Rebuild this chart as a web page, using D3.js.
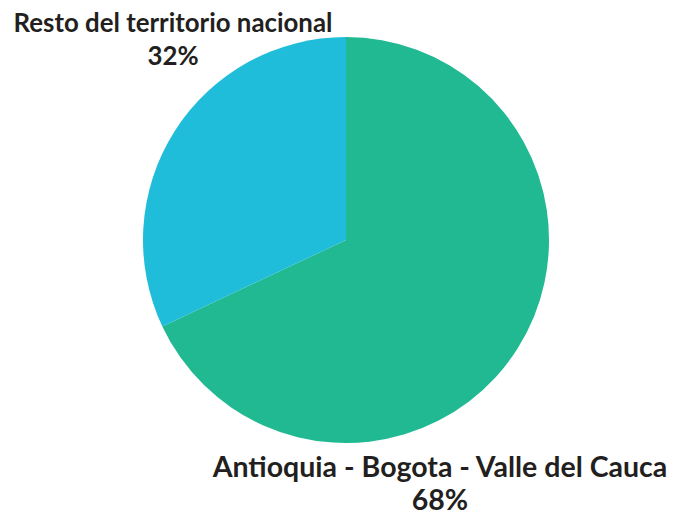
<!DOCTYPE html>
<html>
<head>
<meta charset="utf-8">
<script src="https://cdn.jsdelivr.net/npm/d3@7"></script>
<style>
  body { margin: 0; background: #fff; }
  text { font-family: Lato, "Open Sans", sans-serif; font-weight: bold; fill: #231f20; }
</style>
</head>
<body>
<div id="viz"></div>
<script>
// data
var categories = ["Antioquia - Bogota - Valle del Cauca", "Resto del territorio nacional"];
var values = [68, 32];
var percentLabels = ["68%", "32%"];
var colors = ["#20b991", "#1fbdda"];

var width = 684,
    height = 517,
    cx = 346,
    cy = 240,
    radius = 203;

// label anchors (line 1 baseline), one per slice
var labelPos = [[440, 477], [173, 32]];
var labelWidth = [455, 319];

var svg = d3.select("#viz")
    .append("svg")
    .attr("width", width)
    .attr("height", height);

var pie = d3.pie()
    .sort(null)
    .value(function(d) { return d; });

var arc = d3.arc()
    .innerRadius(0)
    .outerRadius(radius);

var g = svg.append("g")
    .attr("transform", "translate(" + cx + "," + cy + ")");

g.selectAll("path")
  .data(pie(values))
  .enter()
  .append("path")
    .attr("d", arc)
    .attr("fill", function(d, i) { return colors[i]; });

// labels
var labels = svg.selectAll("g.label")
  .data(categories)
  .enter()
  .append("g")
    .attr("class", "label")
    .attr("transform", function(d, i) {
      return "translate(" + labelPos[i][0] + "," + labelPos[i][1] + ")";
    });

labels.append("text")
    .attr("class", "name")
    .attr("text-anchor", "middle")
    .style("font-size", "24px")
    .text(function(d) { return d; });

labels.append("text")
    .attr("text-anchor", "middle")
    .attr("y", function(d, i) { return i === 0 ? 33 : 33; })
    .style("font-size", "24px")
    .text(function(d, i) { return percentLabels[i]; });

// fit names to the measured width in the picture
labels.select("text.name").each(function(d, i) {
  var w = this.getComputedTextLength();
  var size = 24 * labelWidth[i] / w;
  d3.select(this.parentNode).selectAll("text").style("font-size", size + "px");
});
</script>
</body>
</html>
